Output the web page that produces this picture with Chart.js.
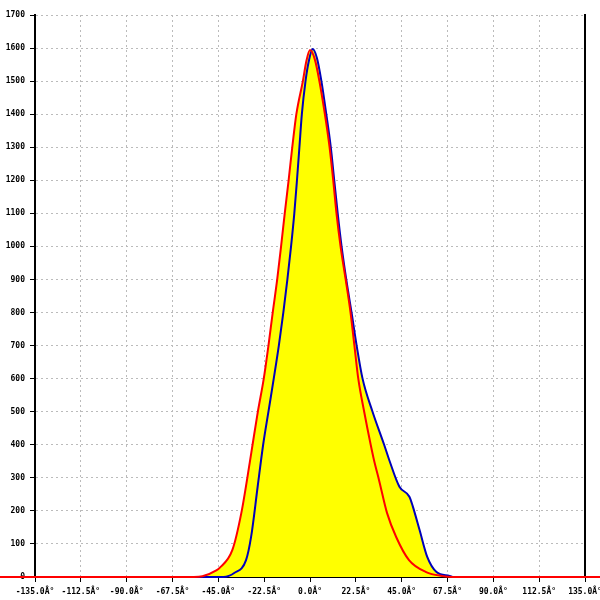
<!DOCTYPE html>
<html>
<head>
<meta charset="UTF-8">
<style>
  body { margin: 0; background: #fff; }
  #chart { display: block; }
</style>
</head>
<body>
<canvas id="chart" width="600" height="600"></canvas>
<script src="https://cdn.jsdelivr.net/npm/chart.js"></script>
<script>
// red curve (angle in degrees, count)
const redDeg = [-160, -57, -52.8, -46, -44.5, -38.1, -33.7, -29.6, -28.2, -25.6, -22.7, -20.4, -18.3, -16.1, -14.2, -12.4, -10.5, -8.7, -6.7, -3.5, -1.8, 0, 2.4, 4.6, 7.3, 9.6, 11.4, 13.0, 15.0, 17.5, 19.9, 21.8, 23.7, 26.6, 29.8, 31.4, 33.9, 37.8, 42.3, 48.6, 57, 64.8, 70, 160];
const redVal = [0, 0, 2, 20, 27, 82, 194, 345, 400, 500, 600, 700, 800, 900, 1000, 1100, 1200, 1300, 1400, 1500, 1560, 1594, 1565, 1500, 1400, 1300, 1200, 1100, 1000, 900, 800, 700, 600, 500, 400, 354, 293, 194, 121, 51, 15, 3, 0, 0];

// blue curve
const blueDeg = [-58, -42.5, -37.2, -31.4, -28.9, -25.7, -23.0, -20.4, -17.8, -15.3, -13.1, -11.1, -9.3, -7.7, -6.4, -5.2, -4.0, -2.2, -0.6, 1.3, 3.4, 5.6, 8.0, 10.2, 11.9, 13.6, 15.5, 17.8, 20.4, 22.9, 25.8, 30.7, 36.4, 38.9, 43.9, 48.8, 50.5, 53.8, 57.6, 62.1, 68.5, 70.2];
const blueVal = [0, 0, 12, 51, 122, 273, 400, 500, 600, 700, 800, 900, 1000, 1100, 1200, 1300, 1400, 1500, 1560, 1597, 1570, 1500, 1400, 1300, 1200, 1100, 1000, 900, 800, 700, 600, 500, 400, 354, 273, 243, 213, 142, 60, 15, 3, 0];

const xMin = -135, xMax = 135, xStep = 22.5;
const yMin = 0, yMax = 1700, yStep = 100;

const tickFont = { family: 'DejaVu Sans Mono', size: 8, weight: 'bold' };

function pts(xs, ys) {
  return xs.map((x, i) => ({ x: x, y: ys[i] }));
}

new Chart(document.getElementById('chart').getContext('2d'), {
  type: 'line',
  data: {
    datasets: [
      {
        data: pts(redDeg, redVal),
        borderColor: '#ff0000',
        borderWidth: 2,
        backgroundColor: '#ffff00',
        fill: 'origin',
        pointRadius: 0,
        cubicInterpolationMode: 'monotone',
        clip: false
      },
      {
        data: pts(blueDeg, blueVal),
        borderColor: '#0000bb',
        borderWidth: 2,
        backgroundColor: '#ffff00',
        fill: 'origin',
        pointRadius: 0,
        cubicInterpolationMode: 'monotone',
        clip: false
      }
    ]
  },
  options: {
    responsive: false,
    animation: false,
    layout: { padding: { top: 15 } },
    plugins: {
      legend: { display: false },
      tooltip: { enabled: false },
      filler: { drawTime: 'beforeDatasetsDraw' }
    },
    scales: {
      x: {
        type: 'linear',
        min: xMin,
        max: xMax,
        ticks: {
          stepSize: xStep,
          autoSkip: false,
          maxRotation: 0,
          padding: 5,
          color: '#000',
          font: tickFont,
          callback: v => v.toFixed(1) + 'Â°'
        },
        grid: { color: '#bbbbbb', tickColor: '#000', tickLength: 5 },
        border: { color: '#000', width: 2, dash: [2, 3] },
        afterFit: s => { s.height = 23; s.paddingLeft = 0; s.paddingRight = 0; }
      },
      y: {
        min: yMin,
        max: yMax,
        ticks: {
          stepSize: yStep,
          padding: 5,
          color: '#000',
          font: tickFont,
          callback: v => String(v)
        },
        grid: { color: '#bbbbbb', tickColor: '#000', tickLength: 5 },
        border: { color: '#000', width: 2, dash: [2, 3] },
        afterFit: s => { s.width = 35; s.paddingTop = 0; s.paddingBottom = 0; }
      },
      y2: {
        position: 'right',
        min: yMin,
        max: yMax,
        ticks: { display: false },
        grid: { display: false },
        border: { color: '#000', width: 2 },
        afterFit: s => { s.width = 15; s.paddingTop = 0; s.paddingBottom = 0; }
      }
    }
  }
});
</script>
</body>
</html>
